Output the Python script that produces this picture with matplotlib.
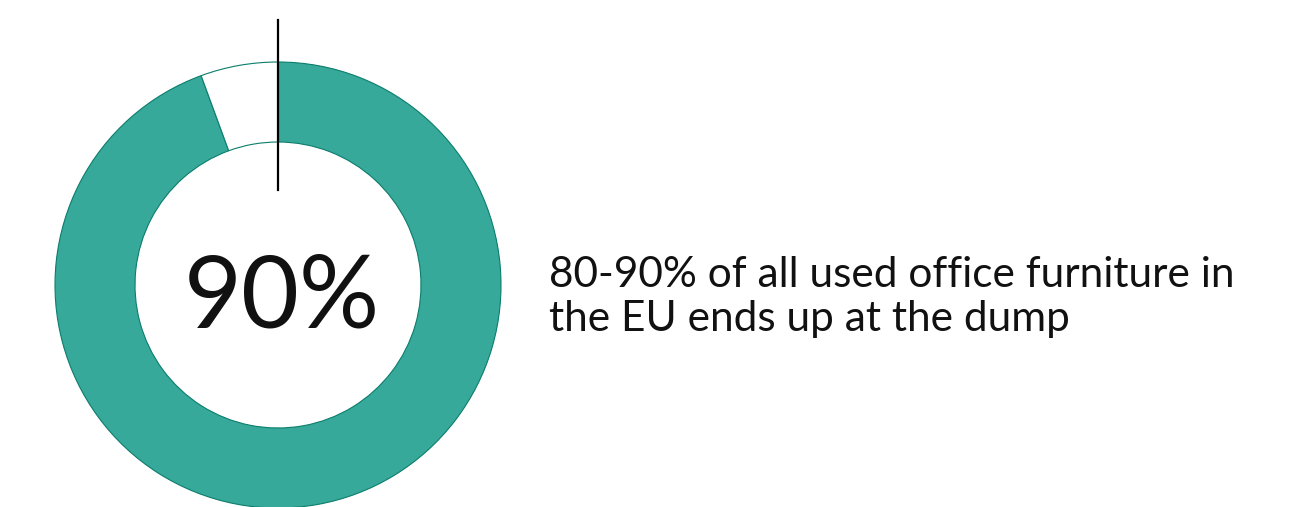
import matplotlib.pyplot as plt

# donut values (share of circle)
shares = [94.4, 5.6]
colors = ["#36a99a", "#ffffff"]
big_label = "90%"
caption = "80-90% of all used office furniture in\nthe EU ends up at the dump"

W, H = 1296, 507
fig = plt.figure(figsize=(W / 100, H / 100), dpi=100)
ax = fig.add_axes([0, 0, 1, 1])

cx, cy = 278, H - 285
ax.pie(shares, colors=colors, center=(cx, cy), radius=223, startangle=90,
       counterclock=False, frame=True,
       wedgeprops=dict(width=80, edgecolor="#0b7d6c", linewidth=0.8))
ax.set_xlim(0, W)
ax.set_ylim(0, H)
ax.set_aspect("equal")
ax.axis("off")

# marker line at 12 o'clock
ax.plot([cx, cx], [H - 190, H - 20], color="black", lw=1.6)

ax.text(cx + 4, cy - 14, big_label, ha="center", va="center", fontsize=72,
        family="Lato", color="#111111")
ax.text(549, H - 297, caption, ha="left", va="center", fontsize=30.5,
        family="Lato", color="#111111", linespacing=1.2)

fig.savefig("out.png", dpi=100)
